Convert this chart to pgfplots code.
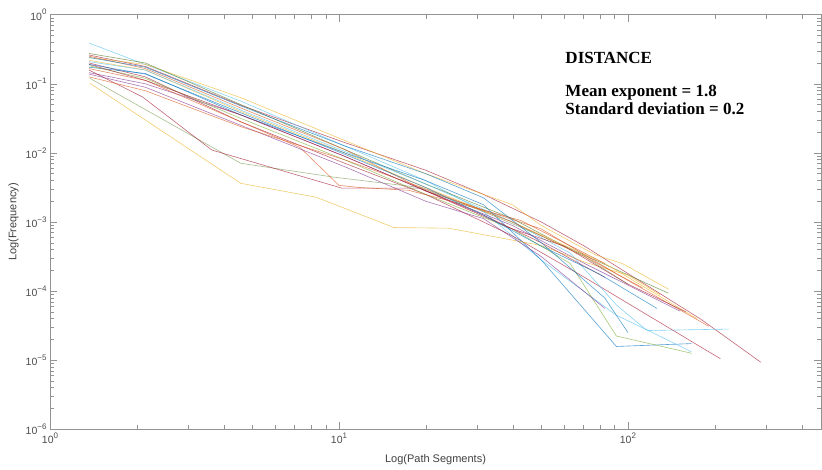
\documentclass[border=0pt]{standalone}
\usepackage{fontspec}
\setmainfont{Liberation Sans}
\newfontfamily\annotfont{Liberation Serif}
\usepackage{pgfplots}
\pgfplotsset{compat=1.18}

% MATLAB default line colours
\definecolor{mblue}{rgb}{0,0.447,0.741}
\definecolor{morange}{rgb}{0.85,0.325,0.098}
\definecolor{myellow}{rgb}{0.929,0.694,0.125}
\definecolor{mpurple}{rgb}{0.494,0.184,0.556}
\definecolor{mgreen}{rgb}{0.466,0.674,0.188}
\definecolor{mcyan}{rgb}{0.301,0.745,0.933}
\definecolor{mred}{rgb}{0.635,0.078,0.184}

\newcommand{\pw}[1]{10\raisebox{0.5em}{\fontsize{8}{8}\selectfont #1}}

\begin{document}
\begin{tikzpicture}
\begin{axis}[
    xmode=log, ymode=log,
    scale only axis,
    width=771pt, height=414.6pt,
    xmin=1, xmax=465.6, ymin=1e-6, ymax=1,
    axis line style={draw=gray!85},
    tick style={draw=gray!85, line width=0.5pt},
    tick align=inside,
    major tick length=7pt, minor tick length=4pt,
    xtick={1,10,100},
    xticklabels={\pw{0},\pw{1},\pw{2}},
    minor xtick={2,3,4,5,6,7,8,9,20,30,40,50,60,70,80,90,200,300,400},
    ytick={1e-6,1e-5,1e-4,1e-3,1e-2,1e-1,1},
    yticklabels={\pw{−6},\pw{−5},\pw{−4},\pw{−3},\pw{−2},\pw{−1},\pw{0}},
    minor ytick={2e-6,3e-6,4e-6,5e-6,6e-6,7e-6,8e-6,9e-6,
                 2e-5,3e-5,4e-5,5e-5,6e-5,7e-5,8e-5,9e-5,
                 2e-4,3e-4,4e-4,5e-4,6e-4,7e-4,8e-4,9e-4,
                 2e-3,3e-3,4e-3,5e-3,6e-3,7e-3,8e-3,9e-3,
                 2e-2,3e-2,4e-2,5e-2,6e-2,7e-2,8e-2,9e-2,
                 0.2,0.3,0.4,0.5,0.6,0.7,0.8,0.9},
    ticklabel style={font=\fontsize{10.5}{12}\selectfont, text=black!70},
    xlabel={Log(Path Segments)},
    ylabel={Log(Frequency)},
    label style={font=\fontsize{11}{13}\selectfont, text=black!75},
    xlabel style={at={(axis description cs:0.5,0)}, anchor=north, yshift=-22pt},
    ylabel style={at={(axis description cs:-0.036,0.5)}, anchor=south},
    every axis plot/.append style={line width=0.6pt, opacity=0.65},
  ]
  \addplot[mred] coordinates {(1.365,0.261) (2.138,0.178) (4.571,0.049) (10.47,0.0141) (19.95,0.00562) (31.62,0.00251) (50.12,0.001) (70.79,4.47e-4) (109.6,1.41e-4) (177.8,3.98e-5) (288.4,9.33e-6)};
  \addplot[mcyan] coordinates {(1.365,0.389) (2.138,0.190) (4.571,0.0562) (10.47,0.0126) (19.95,0.00398) (31.62,0.00141) (50.12,2.82e-4) (91.2,4.47e-5) (117.5,2.69e-5) (223.9,2.82e-5)};
  \addplot[myellow] coordinates {(1.365,0.240) (2.138,0.191) (4.571,0.0631) (10.47,0.0151) (19.95,0.00501) (39.81,0.00178) (50.12,8.91e-4) (77.6,3.31e-4) (95.5,2.51e-4) (138.0,1.07e-4)};
  \addplot[mgreen!70!black] coordinates {(1.365,0.275) (2.138,0.200) (4.571,0.0501) (10.47,0.0112) (19.95,0.00355) (39.81,0.00112) (60.26,4.47e-4) (138.0,9.33e-5)};
  \addplot[mpurple] coordinates {(1.365,0.145) (2.138,0.100) (4.571,0.0355) (10.47,0.00891) (19.95,0.00282) (39.81,8.91e-4) (70.79,2.51e-4) (151.4,5.13e-5)};
  \addplot[myellow] coordinates {(1.365,0.219) (2.138,0.158) (4.571,0.0398) (10.47,0.0100) (19.95,0.00316) (39.81,0.00100) (83.18,2.51e-4) (173.8,3.98e-5)};
  \addplot[morange] coordinates {(1.365,0.251) (2.138,0.166) (4.571,0.0447) (10.47,0.0112) (19.95,0.00282) (50.12,7.94e-4) (91.2,1.78e-4) (190.5,3.09e-5)};
  \addplot[mred] coordinates {(1.365,0.200) (2.138,0.126) (4.571,0.0282) (10.47,0.00708) (19.95,0.00251) (39.81,6.31e-4) (70.79,1.58e-4) (208.9,1.05e-5)};
  \addplot[mblue] coordinates {(1.365,0.174) (2.138,0.141) (4.571,0.0355) (10.47,0.0100) (19.95,0.00398) (31.62,0.00178) (50.12,2.82e-4) (91.2,1.58e-5) (166.0,1.74e-5)};
  \addplot[mgreen] coordinates {(1.365,0.182) (2.138,0.120) (4.571,0.0316) (10.47,0.00794) (19.95,0.00251) (39.81,7.94e-4) (63.10,2.51e-4) (91.2,2.24e-5) (166.0,1.26e-5)};
  \addplot[mcyan] coordinates {(1.365,0.209) (2.138,0.158) (4.571,0.0417) (10.47,0.0105) (19.95,0.00355) (39.81,0.00100) (63.10,3.55e-4) (91.2,6.31e-5) (114.8,2.82e-5) (166.0,1.32e-5)};
  \addplot[myellow] coordinates {(1.374,0.102) (4.571,0.00363) (8.318,0.00229) (15.49,8.32e-4) (23.99,8.13e-4) (50.12,4.57e-4) (70.79,2.63e-4) (100,1.70e-4) (128.8,8.91e-5)};
  \addplot[mgreen!60!gray] coordinates {(1.374,0.120) (4.571,0.00708) (9.550,0.00447) (19.05,0.00316) (31.62,0.00141) (50.12,6.31e-4) (70.79,3.16e-4) (100,1.26e-4)};
  \addplot[mred] coordinates {(1.365,0.158) (2.089,0.0646) (3.631,0.0110) (10.23,0.00309) (19.05,0.00309) (31.62,0.00126) (50.12,5.01e-4) (83.18,1.58e-4)};
  \addplot[morange] coordinates {(1.365,0.166) (2.138,0.112) (4.571,0.0282) (7.328,0.0120) (10,0.00339) (11.75,0.00316) (17.38,0.00288) (23.99,0.00204) (42.66,0.00105) (83.18,2.51e-4)};
  \addplot[mpurple] coordinates {(1.365,0.138) (2.138,0.0891) (4.571,0.0251) (10.47,0.00631) (19.95,0.00200) (31.62,0.00112) (50.12,3.16e-4) (83.18,5.62e-5)};
  \addplot[mred] coordinates {(1.365,0.191) (2.138,0.112) (4.571,0.0355) (10.47,0.00891) (19.95,0.00282) (39.81,7.94e-4) (60.26,4.47e-4) (100,1.26e-4) (158.5,5.01e-5)};
  \addplot[mblue] coordinates {(1.365,0.240) (2.138,0.174) (4.571,0.0479) (10.47,0.0126) (19.95,0.00501) (31.62,0.00224) (50.12,5.01e-4) (83.18,7.94e-5) (100,2.51e-5)};
  \addplot[morange] coordinates {(1.365,0.126) (2.138,0.0794) (4.571,0.0240) (10.47,0.00794) (19.95,0.00302) (39.81,0.00100) (70.79,3.16e-4) (112.2,1.12e-4)};
  \addplot[mblue] coordinates {(1.365,0.191) (2.138,0.138) (4.571,0.0380) (10.47,0.00955) (19.95,0.00316) (31.62,0.00126) (50.12,4.47e-4) (79.4,1.78e-4) (125.9,5.62e-5)};

  \node[anchor=base west, font=\annotfont\bfseries\fontsize{17}{17}\selectfont] at (rel axis cs:0.664,0.883) {DISTANCE};
  \node[anchor=base west, font=\annotfont\bfseries\fontsize{17}{17}\selectfont] at (rel axis cs:0.664,0.802) {Mean exponent = 1.8};
  \node[anchor=base west, font=\annotfont\bfseries\fontsize{17}{17}\selectfont] at (rel axis cs:0.664,0.760) {Standard deviation = 0.2};
\end{axis}
\pgfresetboundingbox
\path ([xshift=-50pt,yshift=-40.7pt]current axis.south west) rectangle ([xshift=1pt,yshift=14.7pt]current axis.north east);
\end{tikzpicture}
\end{document}
